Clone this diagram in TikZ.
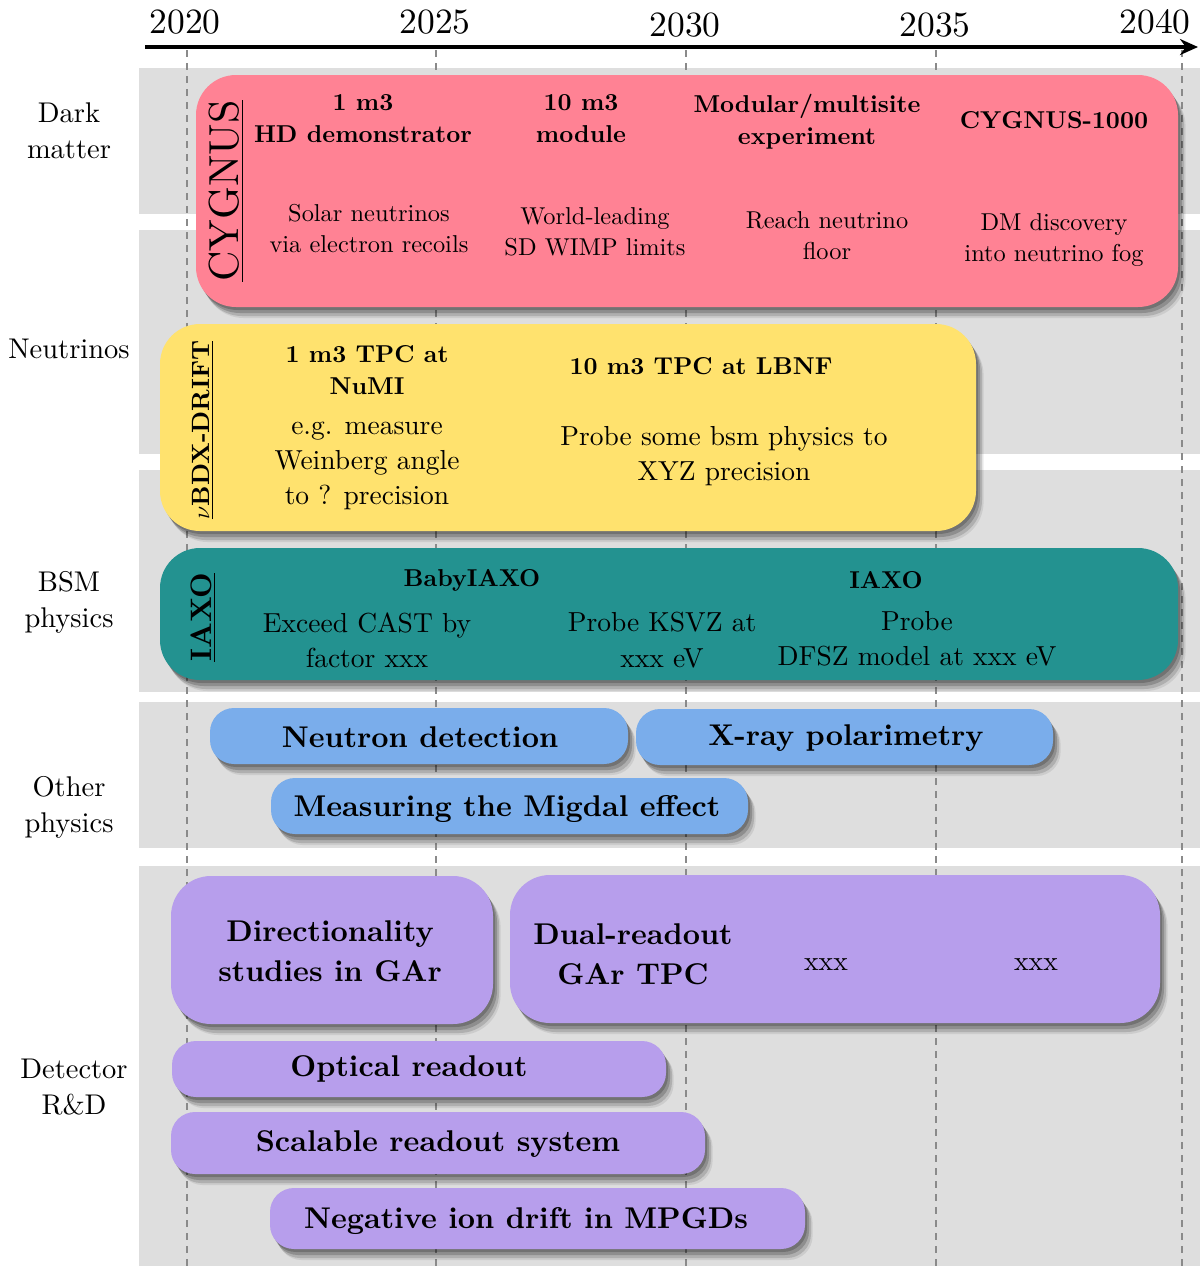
\documentclass[tikz,border=0pt]{standalone}
\usepackage{fontspec}
\setmainfont{lmroman10-regular.otf}[BoldFont=lmroman10-bold.otf, ItalicFont=lmroman10-italic.otf, BoldItalicFont=lmroman10-bolditalic.otf]
\usetikzlibrary{arrows.meta,fit,shadows}
\definecolor{bandgray}{HTML}{DEDEDE}
\definecolor{dashgray}{HTML}{8A8A8A}
\definecolor{pinkbox}{HTML}{FF8294}
\definecolor{yellowbox}{HTML}{FFE26E}
\definecolor{tealbox}{HTML}{239290}
\definecolor{bluebox}{HTML}{7AADEB}
\definecolor{purplebox}{HTML}{B79EEC}
\newcommand\fsz[2]{\fontsize{#1}{#2}\selectfont}
\tikzset{
  band/.style={fill=bandgray, draw=none},
  yearline/.style={draw=dashgray, line width=1.4pt, dash pattern=on 3.5pt off 3pt},
  softshadow/.style={
    drop shadow={shadow xshift=1pt, shadow yshift=-1.5pt, opacity=.2, fill=black},
    drop shadow={shadow xshift=2pt, shadow yshift=-3pt, opacity=.18, fill=black},
    drop shadow={shadow xshift=3pt, shadow yshift=-4.5pt, opacity=.14, fill=black},
    drop shadow={shadow xshift=3.8pt, shadow yshift=-5.5pt, opacity=.08, fill=black}},
  bigbox/.style={draw=none, inner sep=0pt, rounded corners=20pt, softshadow},
  pillbox/.style={draw=none, inner sep=0pt, rounded corners=12pt, softshadow},
  rowlabel/.style={font=\fsz{14.25}{18}, align=center, inner sep=0pt},
  yearlabel/.style={font=\fsz{17.75}{20}, inner sep=0pt},
  ttl/.style={font=\fsz{12.2}{16}\bfseries, align=center, inner sep=0pt},
  sub/.style={font=\fsz{12.2}{15.5}, align=center, inner sep=0pt},
  lsub/.style={font=\fsz{13.75}{17.6}, align=center, inner sep=0pt},
  boxtext/.style={font=\fsz{15}{20}\bfseries, align=center, inner sep=0pt},
  vlabel/.style={rotate=90, inner sep=0pt},
}
\begin{document}
\begin{tikzpicture}[x=0.5pt,y=-0.5pt]
\useasboundingbox (0,0) rectangle (1200,1266);
% bands
\fill[band] (139,68) rectangle (1200,214);
\fill[band] (139,230) rectangle (1200,454);
\fill[band] (139,470) rectangle (1200,692);
\fill[band] (139,702) rectangle (1200,848);
\fill[band] (139,866) rectangle (1200,1266);
% year lines
\foreach \n/\x in {a/187,b/436,c/686,d/936,e/1182}{
  \coordinate (yt\n) at (\x,50);
  \coordinate (yb\n) at (\x,1266);
  \draw[yearline] (yt\n) -- (yb\n);
}
% axis
\coordinate (axL) at (145,47);
\coordinate (axR) at (1198,47);
\draw[line width=2pt, -{Stealth[length=9pt,width=8pt]}] (axL) -- (axR);
\node[yearlabel] (y2020) at (185,22) {2020};
\node[yearlabel] (y2025) at (435,22) {2025};
\node[yearlabel] (y2030) at (685,25) {2030};
\node[yearlabel] (y2035) at (935,25) {2035};
\node[yearlabel] (y2040) at (1155,22) {2040};
% row labels
\node[rowlabel] (rDM) at (69,131) {Dark\\matter};
\node[rowlabel] (rNu) at (69,349) {Neutrinos};
\node[rowlabel] (rBSM) at (69,602) {BSM\\physics};
\node[rowlabel] (rOth) at (69,807) {Other\\physics};
\node[rowlabel] (rDet) at (74,1087) {Detector\\R\&D};
% CYGNUS
\node[bigbox, fill=pinkbox, fit={(196,75) (1178,307)}] (cyg) {};
\node[vlabel, font=\fsz{21}{24}] (cygL) at (226,191) {\underline{CYGNUS}};
\node[ttl] (c1) at (363,119) {1 m3\\HD demonstrator};
\node[ttl] (c2) at (581,119) {10 m3\\module};
\node[ttl] (c3) at (807,122) {Modular/multisite\\experiment};
\node[ttl] (c4) at (1054,120) {CYGNUS-1000};
\node[sub] (s1) at (369,229) {Solar neutrinos\\via electron recoils};
\node[sub] (s2) at (595,232) {World-leading\\SD WIMP limits};
\node[sub] (s3) at (827,236) {Reach neutrino\\floor};
\node[sub] (s4) at (1054,240) {DM discovery\\into neutrino fog};
% nuBDX-DRIFT
\node[bigbox, fill=yellowbox, fit={(160,324) (976,531)}] (nbdx) {};
\node[vlabel, font=\fsz{12.5}{15}\bfseries] (nbdxL) at (203,430) {\underline{$\nu$BDX-DRIFT}};
\node[ttl] (n1) at (367,370) {1 m3 TPC at\\NuMI};
\node[lsub] (n2) at (367,466) {e.g. measure\\Weinberg angle\\to ? precision};
\node[ttl] (n3) at (701,366) {10 m3 TPC at LBNF};
\node[lsub] (n4) at (724,456) {Probe some bsm physics to\\XYZ precision};
% IAXO
\node[bigbox, fill=tealbox, fit={(160,548) (1178,680)}] (iaxo) {};
\node[vlabel, font=\fsz{14.8}{17}\bfseries] (iaxoL) at (203,617) {\underline{IAXO}};
\node[ttl] (i1) at (472,580) {BabyIAXO};
\node[ttl] (i2) at (886,580) {IAXO};
\node[lsub] (i3) at (367,640) {Exceed CAST by\\factor xxx};
\node[lsub] (i4) at (662,640) {Probe KSVZ at\\xxx eV};
\node[lsub] (i5) at (917,639) {Probe\\DFSZ model at xxx eV};
% Other physics
\node[pillbox, fill=bluebox, fit={(210,708) (628,764)}] (neut) {};
\node[boxtext] (neutT) at (420,737) {Neutron detection};
\node[pillbox, fill=bluebox, fit={(636,709) (1053,765)}] (xray) {};
\node[boxtext] (xrayT) at (846,738) {X-ray polarimetry};
\node[pillbox, fill=bluebox, fit={(271,778) (748,834)}] (migd) {};
\node[boxtext] (migdT) at (507,809) {Measuring the Migdal effect};
% Detector R&D
\node[bigbox, fill=purplebox, fit={(171,876) (493,1024)}] (dirb) {};
\node[boxtext] (dirT) at (330,951) {Directionality\\studies in GAr};
\node[bigbox, fill=purplebox, fit={(510,875) (1160,1023)}] (dual) {};
\node[boxtext] (dualT) at (633,954) {Dual-readout\\GAr TPC};
\node[lsub] (x1) at (826,965) {xxx};
\node[lsub] (x2) at (1036,965) {xxx};
\node[pillbox, fill=purplebox, fit={(172,1041) (666,1097)}] (opt) {};
\node[boxtext] (optT) at (409,1069) {Optical readout};
\node[pillbox, fill=purplebox, fit={(171,1112) (705,1174)}] (scal) {};
\node[boxtext] (scalT) at (438,1144) {Scalable readout system};
\node[pillbox, fill=purplebox, fit={(270,1188) (805,1249)}] (negi) {};
\node[boxtext] (negiT) at (526,1221) {Negative ion drift in MPGDs};
\end{tikzpicture}
\end{document}
